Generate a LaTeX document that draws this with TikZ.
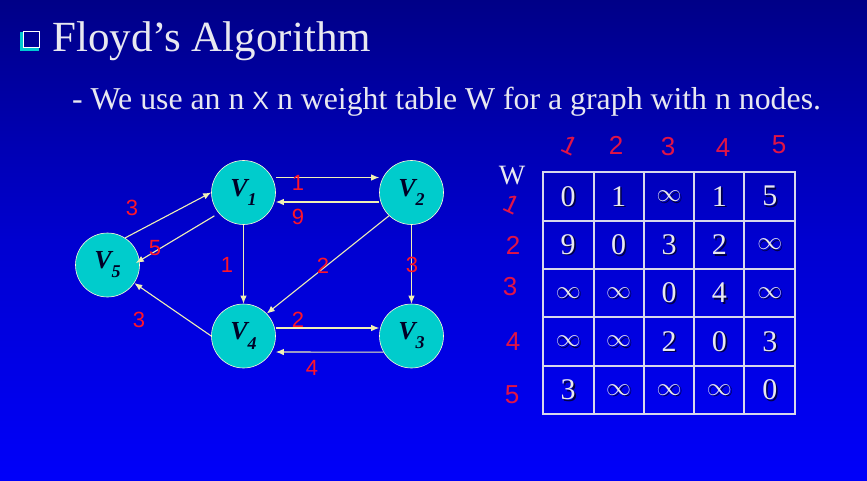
\documentclass[tikz,border=0pt]{standalone}
\usepackage{fontspec}
\setmainfont{Liberation Serif}
\newfontfamily\sansf{Liberation Sans}
\usetikzlibrary{arrows.meta}
\definecolor{bgtop}{RGB}{0,0,135}
\definecolor{bgmid}{RGB}{0,0,208}
\definecolor{bgbot}{RGB}{0,0,250}
\definecolor{txtwhite}{RGB}{232,232,240}
\definecolor{vfill}{RGB}{0,204,204}
\definecolor{edgecol}{RGB}{240,240,180}
\definecolor{lblred}{RGB}{255,20,40}
\definecolor{handred}{RGB}{225,20,70}
\definecolor{gridcol}{RGB}{215,215,235}
\definecolor{shadowcol}{RGB}{0,0,70}
\definecolor{bulletcyan}{RGB}{0,200,210}
\begin{document}
\begin{tikzpicture}[x=1pt,y=-1pt,
  vert/.style={circle,fill=vfill,draw=white!85!yellow,line width=0.6pt,minimum size=64pt,inner sep=0pt,
    font=\fontsize{26}{26}\selectfont\bfseries\itshape,text=black!85!blue},
  edge/.style={draw=edgecol,line width=1.1pt,-{Latex[length=8pt,width=6.5pt]}},
  wlbl/.style={text=lblred,font=\sansf\fontsize{22}{22}\selectfont,inner sep=0pt},
  hand/.style={text=handred,font=\sansf\fontsize{26}{26}\selectfont,inner sep=0pt},
  cell/.style={text=txtwhite,font=\fontsize{30}{30}\selectfont,inner sep=0pt},
  cellsh/.style={text=shadowcol,font=\fontsize{30}{30}\selectfont,inner sep=0pt},
  gridl/.style={draw=gridcol,line width=1.4pt},
  gridouter/.style={draw=gridcol,line width=2.6pt}
]
\useasboundingbox (0,0) rectangle (867,481);
\shade[top color=bgtop,bottom color=bgbot,middle color=bgmid] (0,0) rectangle (867,481);

% bullet
\fill[bulletcyan] (20,32) rectangle (39,51);
\filldraw[fill=bgtop!80!bgmid,draw=white!80,line width=0.6pt] (23.5,31) rectangle (39.5,47.5);

% title
\node[anchor=base west,inner sep=0pt,text=txtwhite,font=\fontsize{43}{43}\selectfont] (title) at (52,52) {Floyd’s Algorithm};
\node[anchor=base west,inner sep=0pt,text=txtwhite,font=\fontsize{31.8}{32}\selectfont] (sub) at (72,110)
  {- We use an n {\sansf\fontsize{25}{25}\selectfont X} n weight table W for a graph with n nodes.};

% graph nodes
\node[vert] (v1) at (243.5,192.5) {V\raisebox{-0.35em}{\fontsize{18}{18}\selectfont 1}};
\node[vert] (v2) at (411.5,192.5) {V\raisebox{-0.35em}{\fontsize{18}{18}\selectfont 2}};
\node[vert] (v3) at (411.5,336) {V\raisebox{-0.35em}{\fontsize{18}{18}\selectfont 3}};
\node[vert] (v4) at (243.5,336) {V\raisebox{-0.35em}{\fontsize{18}{18}\selectfont 4}};
\node[vert] (v5) at (107.5,265) {V\raisebox{-0.35em}{\fontsize{18}{18}\selectfont 5}};

% edges
\draw[edge] ([yshift=15pt]v1.east) -- ([yshift=15pt]v2.west);
\draw[edge] ([yshift=-9.5pt]v2.west) -- ([yshift=-9.5pt]v1.east);
\draw[edge] (v1.south) -- (v4.north);
\draw[edge] (v2.south) -- (v3.north);
\draw[edge] (v2.226) -- (v4.44);
\draw[edge] ([yshift=8pt]v4.east) -- ([yshift=8pt]v3.west);
\draw[edge] (v3.210) -- ([yshift=-16pt]v4.east);
\draw[edge] (v5.57) -- (v1.west);
\draw[edge] ([shift={(-4pt,-3pt)}]v1.219) -- ([xshift=-4pt,yshift=2pt]v5.east);
\draw[edge] (v4.west) -- (v5.-34);

% weight labels
\node[wlbl] (l12) at (298,183) {1};
\node[wlbl] (l21) at (298,217) {9};
\node[wlbl] (l14) at (227,265) {1};
\node[wlbl] (l23) at (412,265) {3};
\node[wlbl] (l24) at (323,266) {2};
\node[wlbl] (l43) at (298,320) {2};
\node[wlbl] (l34) at (312,368) {4};
\node[wlbl] (l51) at (132,208) {3};
\node[wlbl] (l15) at (155,248) {5};
\node[wlbl] (l45) at (139,320) {3};

% table
\node[anchor=base,inner sep=0pt,text=txtwhite,font=\fontsize{28}{28}\selectfont] (wlab) at (512,185) {W};
\foreach \x in {594,644,694,744} \draw[gridl] (\x,172) -- (\x,414);
\foreach \y in {221,269,317,366} \draw[gridl] (543,\y) -- (795,\y);
\draw[gridouter] (543,172) rectangle (795,414);

\foreach \r [count=\i] in {{0,1,$\infty$,1,5},{9,0,3,2,$\infty$},{$\infty$,$\infty$,0,4,$\infty$},{$\infty$,$\infty$,2,0,3},{3,$\infty$,$\infty$,$\infty$,0}}{
  \foreach \v [count=\j] in \r {
    \pgfmathsetmacro{\cx}{543+50.4*(\j-0.5)}
    \pgfmathsetmacro{\cy}{172+48.4*(\i-0.5)}
    \node[cellsh] at (\cx+1.6,\cy+1.6) {\v};
    \node[cell] (c-\i-\j) at (\cx,\cy) {\v};
  }
}

% handwritten indices
\node[hand,rotate=-25] (h1) at (570,145) {1};
\node[hand] (h2) at (616,145) {2};
\node[hand] (h3) at (668,147) {3};
\node[hand] (h4) at (723,148) {4};
\node[hand] (h5) at (779,145) {5};
\node[hand,rotate=-25] (r1) at (512,204) {1};
\node[hand] (r2) at (513,245) {2};
\node[hand] (r3) at (510,287) {3};
\node[hand] (r4) at (513,342) {4};
\node[hand] (r5) at (512,395) {5};
\end{tikzpicture}
\end{document}
